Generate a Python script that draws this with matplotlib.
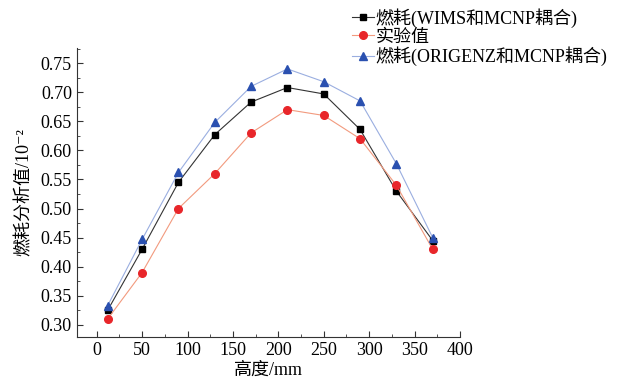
import matplotlib
matplotlib.use("Agg")
import matplotlib.pyplot as plt
from matplotlib import ticker

plt.rcParams['font.family'] = ['Liberation Serif', 'Noto Sans CJK SC', 'DejaVu Sans']

height = [12, 50, 90, 130, 170, 210, 250, 290, 330, 370]
wims = [0.325, 0.430, 0.545, 0.627, 0.683, 0.708, 0.697, 0.636, 0.530, 0.445]
expt = [0.310, 0.390, 0.500, 0.560, 0.630, 0.670, 0.660, 0.620, 0.540, 0.430]
origenz = [0.333, 0.447, 0.562, 0.648, 0.710, 0.740, 0.718, 0.685, 0.577, 0.450]

labels = ["燃耗(WIMS和MCNP耦合)", "实验值", "燃耗(ORIGENZ和MCNP耦合)"]

fig = plt.figure(figsize=(6.19, 3.87), dpi=100)
ax = fig.add_axes([0.124, 0.129, 0.619, 0.747])

ax.plot(height, wims, color="#333333", lw=0.8, marker="s", ms=5,
        mfc="black", mec="black", label=labels[0])
ax.plot(height, expt, color="#f29a7e", lw=0.8, marker="o", ms=5.5,
        mfc="#e8262a", mec="#e8262a", label=labels[1])
ax.plot(height, origenz, color="#9aaee0", lw=0.8, marker="^", ms=6,
        mfc="#2a50b0", mec="#2a50b0", label=labels[2])

ax.set_xlim(-22, 400)
ax.set_ylim(0.279, 0.776)
ax.xaxis.set_major_locator(ticker.MultipleLocator(50))
ax.xaxis.set_minor_locator(ticker.MultipleLocator(25))
ax.yaxis.set_major_locator(ticker.MultipleLocator(0.05))
ax.yaxis.set_minor_locator(ticker.MultipleLocator(0.025))
ax.yaxis.set_major_formatter(ticker.FormatStrFormatter("%.2f"))
ax.tick_params(which="both", direction="in", labelsize=13, color="#333333")
ax.tick_params(which="major", length=4)
ax.tick_params(which="minor", length=2)
for s in ["top", "right"]:
    ax.spines[s].set_visible(False)
for s in ["left", "bottom"]:
    ax.spines[s].set_color("#333333")

ax.set_xlabel("高度/mm", fontsize=13, labelpad=2)
ax.set_ylabel("燃耗分析值/10⁻²", fontsize=13, labelpad=6)

fig.legend(loc="upper left", bbox_to_anchor=(352 / 619, 1 - 8 / 387),
           frameon=False, fontsize=13, handlelength=1.2, handletextpad=0.1,
           labelspacing=0.05, borderpad=0, borderaxespad=0)

fig.savefig("out.png", dpi=100)
